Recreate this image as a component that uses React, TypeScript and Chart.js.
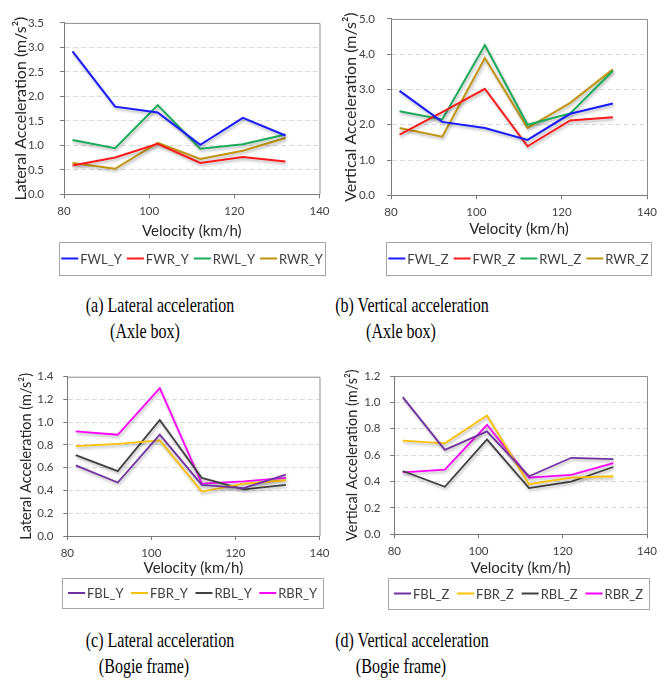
import React, { useEffect, useRef } from 'react';
import { Chart, registerables } from 'chart.js';
Chart.register(...registerables);

// ---------- data ----------
const speeds = [82, 92, 102, 112, 122, 132];
const xTicks = [80, 100, 120, 140];

const FWL_Y = [2.92, 1.79, 1.67, 1.01, 1.56, 1.2];
const FWR_Y = [0.59, 0.75, 1.03, 0.64, 0.76, 0.67];
const RWL_Y = [1.11, 0.94, 1.82, 0.93, 1.02, 1.22];
const RWR_Y = [0.64, 0.52, 1.05, 0.72, 0.89, 1.15];

const FWL_Z = [2.96, 2.08, 1.91, 1.57, 2.31, 2.6];
const FWR_Z = [1.72, 2.36, 3.02, 1.39, 2.12, 2.21];
const RWL_Z = [2.38, 2.15, 4.26, 2.0, 2.32, 3.53];
const RWR_Z = [1.91, 1.66, 3.89, 1.91, 2.62, 3.57];

const FBL_Y = [0.62, 0.47, 0.89, 0.45, 0.42, 0.54];
const FBR_Y = [0.79, 0.81, 0.84, 0.39, 0.46, 0.49];
const RBL_Y = [0.71, 0.57, 1.02, 0.51, 0.41, 0.45];
const RBR_Y = [0.92, 0.89, 1.3, 0.46, 0.48, 0.51];

const FBL_Z = [1.04, 0.64, 0.78, 0.44, 0.58, 0.57];
const FBR_Z = [0.71, 0.69, 0.9, 0.38, 0.43, 0.44];
const RBL_Z = [0.48, 0.36, 0.72, 0.35, 0.4, 0.51];
const RBR_Z = [0.47, 0.49, 0.83, 0.43, 0.45, 0.54];

const yTicksA = [0, 0.5, 1.0, 1.5, 2.0, 2.5, 3.0, 3.5];
const yTicksB = [0, 1, 2, 3, 4, 5];
const yTicksC = [0, 0.2, 0.4, 0.6, 0.8, 1.0, 1.2, 1.4];
const yTicksD = [0, 0.2, 0.4, 0.6, 0.8, 1.0, 1.2];

const xTitle = 'Velocity (km/h)';
const latTitle = 'Lateral Acceleration (m/s²)';
const vertTitle = 'Vertical Acceleration (m/s²)';

const C_BLUE = '#1a1aff';
const C_RED = '#ff1a1a';
const C_GREEN = '#1aaa5a';
const C_GOLD = '#c0940e';
const C_PURPLE = '#7030a0';
const C_YELLOW = '#ffc000';
const C_BLACK = '#404040';
const C_MAGENTA = '#ff00ff';

const FONT = 'Lato, "Open Sans", sans-serif';

type Series = { label: string; color: string; values: number[] };
type Spec = {
  canvas: [number, number, number, number];
  plot: [number, number, number, number];
  yTitleX: number;
  xTitleY: number;
  yTitle: string;
  fsY: number;
  fsX: number;
  yTicks: number[];
  yTickPad: number;
  legendBox: [number, number, number, number];
  series: Series[];
  lineWidth: number;
  caption: [string, string];
  cap1: [number, number];
  cap2: [number, number];
};

const specs: Spec[] = [
  {
    canvas: [0, 0, 336, 285],
    plot: [64, 16, 321, 194.3],
    yTitleX: 20.7,
    xTitleY: 231,
    yTitle: latTitle,
    fsY: 16,
    fsX: 15,
    yTicks: yTicksA,
    yTickPad: 16,
    legendBox: [59, 242, 325, 275],
    series: [
      { label: 'FWL_Y', color: C_BLUE, values: FWL_Y },
      { label: 'FWR_Y', color: C_RED, values: FWR_Y },
      { label: 'RWL_Y', color: C_GREEN, values: RWL_Y },
      { label: 'RWR_Y', color: C_GOLD, values: RWR_Y },
    ],
    lineWidth: 2,
    caption: ['(a) Lateral acceleration', '(Axle box)'],
    cap1: [159.5, 305],
    cap2: [145, 331],
  },
  {
    canvas: [336, 0, 336, 285],
    plot: [391, 11.7, 647, 195.3],
    yTitleX: 351,
    xTitleY: 229.3,
    yTitle: vertTitle,
    fsY: 16,
    fsX: 15,
    yTicks: yTicksB,
    yTickPad: 12,
    legendBox: [386, 242, 651, 275],
    series: [
      { label: 'FWL_Z', color: C_BLUE, values: FWL_Z },
      { label: 'FWR_Z', color: C_RED, values: FWR_Z },
      { label: 'RWL_Z', color: C_GREEN, values: RWL_Z },
      { label: 'RWR_Z', color: C_GOLD, values: RWR_Z },
    ],
    lineWidth: 2,
    caption: ['(b) Vertical acceleration', '(Axle box)'],
    cap1: [412, 305],
    cap2: [401, 331],
  },
  {
    canvas: [0, 345, 336, 275],
    plot: [67.3, 376.7, 320, 536],
    yTitleX: 26,
    xTitleY: 568.3,
    yTitle: latTitle,
    fsY: 14.5,
    fsX: 15,
    yTicks: yTicksC,
    yTickPad: 10,
    legendBox: [62, 578, 323, 608],
    series: [
      { label: 'FBL_Y', color: C_PURPLE, values: FBL_Y },
      { label: 'FBR_Y', color: C_YELLOW, values: FBR_Y },
      { label: 'RBL_Y', color: C_BLACK, values: RBL_Y },
      { label: 'RBR_Y', color: C_MAGENTA, values: RBR_Y },
    ],
    lineWidth: 1.8,
    caption: ['(c) Lateral acceleration', '(Bogie frame)'],
    cap1: [159.5, 639.5],
    cap2: [144, 666],
  },
  {
    canvas: [336, 345, 336, 275],
    plot: [394.3, 376, 647, 534.3],
    yTitleX: 352,
    xTitleY: 567.7,
    yTitle: vertTitle,
    fsY: 14.5,
    fsX: 15,
    yTicks: yTicksD,
    yTickPad: 10,
    legendBox: [388, 578, 649, 609],
    series: [
      { label: 'FBL_Z', color: C_PURPLE, values: FBL_Z },
      { label: 'FBR_Z', color: C_YELLOW, values: FBR_Z },
      { label: 'RBL_Z', color: C_BLACK, values: RBL_Z },
      { label: 'RBR_Z', color: C_MAGENTA, values: RBR_Z },
    ],
    lineWidth: 1.8,
    caption: ['(d) Vertical acceleration', '(Bogie frame)'],
    cap1: [412, 639.5],
    cap2: [401, 666],
  },
];

function Panel({ spec }: { spec: Spec }) {
  const ref = useRef<HTMLCanvasElement | null>(null);
  useEffect(() => {
    const canvas = ref.current;
    if (!canvas) return;
    const [cl, ct, W, H] = spec.canvas;
    const [L, T, R, B] = spec.plot;
    const pl = spec.yTitleX - cl - 0.6 * spec.fsY;
    const yw = L - cl - pl;
    const pt = T - ct;
    const pr = cl + W - R;
    const sb = spec.xTitleY - ct + 0.6 * spec.fsX;
    const xh = sb - (B - ct);
    const pb = H - sb;
    const yMin = spec.yTicks[0];
    const yMax = spec.yTicks[spec.yTicks.length - 1];

    const framePlugin = {
      id: 'frameShadow',
      beforeDatasetsDraw(chart: any) {
        const ctx = chart.ctx;
        const a = chart.chartArea;
        ctx.save();
        ctx.strokeStyle = '#8c8c8c';
        ctx.lineWidth = 1;
        ctx.beginPath();
        ctx.moveTo(a.left, a.top + 0.5);
        ctx.lineTo(a.right + 0.5, a.top + 0.5);
        ctx.lineTo(a.right + 0.5, a.bottom);
        ctx.stroke();
        ctx.restore();
        ctx.save();
        ctx.shadowColor = 'rgba(0,0,0,0.3)';
        ctx.shadowBlur = 3;
        ctx.shadowOffsetX = 1;
        ctx.shadowOffsetY = 2;
      },
      afterDatasetsDraw(chart: any) {
        chart.ctx.restore();
      },
    };

    const legendPlugin = {
      id: 'boxLegend',
      afterDraw(chart: any) {
        const ctx = chart.ctx;
        const [bl0, bt0, br0, bb0] = spec.legendBox;
        const bl = bl0 - cl, bt = bt0 - ct, br = br0 - cl, bb = bb0 - ct;
        ctx.save();
        ctx.strokeStyle = '#a6a6a6';
        ctx.lineWidth = 1;
        ctx.strokeRect(Math.round(bl) + 0.5, Math.round(bt) + 0.5, Math.round(br - bl), Math.round(bb - bt));
        ctx.font = `13px ${FONT}`;
        ctx.textBaseline = 'middle';
        ctx.textAlign = 'left';
        const lineLen = 17;
        const g = 2;
        const items = chart.data.datasets.map((d: any) => ({
          label: d.label,
          color: d.borderColor,
          w: lineLen + g + ctx.measureText(d.label).width,
        }));
        const inner = br - bl - 12;
        const sumW = items.reduce((s: number, it: any) => s + it.w, 0);
        const gap = Math.max(5, (inner - sumW) / (items.length - 1));
        const total = sumW + gap * (items.length - 1);
        let x = (bl + br) / 2 - total / 2;
        const y = (bt + bb) / 2;
        items.forEach((it: any) => {
          ctx.strokeStyle = it.color;
          ctx.lineWidth = 2;
          ctx.beginPath();
          ctx.moveTo(x, y);
          ctx.lineTo(x + lineLen, y);
          ctx.stroke();
          ctx.fillStyle = '#404040';
          ctx.fillText(it.label, x + lineLen + g, y + 1);
          x += it.w + gap;
        });
        ctx.restore();
      },
    };

    const chart = new Chart(canvas, {
      type: 'line',
      data: {
        datasets: spec.series.map((s) => ({
          label: s.label,
          data: s.values.map((v, i) => ({ x: speeds[i], y: v })),
          borderColor: s.color,
          backgroundColor: s.color,
          borderWidth: spec.lineWidth,
          pointRadius: 0,
          tension: 0,
          fill: false,
        })),
      },
      options: {
        animation: false,
        responsive: false,
        maintainAspectRatio: false,
        devicePixelRatio: 1,
        layout: { padding: { left: pl, top: pt, right: pr, bottom: pb } },
        plugins: { legend: { display: false }, tooltip: { enabled: false } },
        scales: {
          x: {
            type: 'linear',
            min: xTicks[0],
            max: xTicks[xTicks.length - 1],
            afterBuildTicks: (s: any) => {
              s.ticks = xTicks.map((v) => ({ value: v }));
            },
            afterFit: (s: any) => {
              s.height = xh;
            },
            grid: {
              drawOnChartArea: false,
              drawTicks: true,
              tickLength: 4,
              tickColor: '#7a7a7a',
            },
            border: { display: true, color: '#7a7a7a', width: 1 },
            ticks: {
              padding: 6.5,
              color: '#404040',
              font: { family: FONT, size: 11.5 },
              maxRotation: 0,
              callback: (v: any) => String(v),
            },
            title: {
              display: true,
              text: xTitle,
              color: '#262626',
              padding: 0,
              font: { family: FONT, size: spec.fsX },
            },
          },
          y: {
            type: 'linear',
            min: yMin,
            max: yMax,
            afterBuildTicks: (s: any) => {
              s.ticks = spec.yTicks.map((v) => ({ value: v }));
            },
            afterFit: (s: any) => {
              s.width = yw;
            },
            grid: {
              drawOnChartArea: true,
              drawTicks: true,
              tickLength: 4,
              tickColor: '#7a7a7a',
              lineWidth: 1,
              color: (c: any) =>
                c.tick && (Math.abs(c.tick.value - yMin) < 1e-9 || Math.abs(c.tick.value - yMax) < 1e-9)
                  ? 'rgba(0,0,0,0)'
                  : '#d9d9d9',
            },
            border: { display: true, color: '#7a7a7a', width: 1, dash: [5, 3] },
            ticks: {
              padding: spec.yTickPad,
              color: '#404040',
              font: { family: FONT, size: 11.5 },
              callback: (v: any) => Number(v).toFixed(1),
            },
            title: {
              display: true,
              text: spec.yTitle,
              color: '#262626',
              padding: 0,
              font: { family: FONT, size: spec.fsY },
            },
          },
        },
      },
      plugins: [framePlugin, legendPlugin],
    } as any);
    return () => chart.destroy();
  }, [spec]);

  const [cl, ct, W, H] = spec.canvas;
  const capStyle = (cx: number, cy: number): React.CSSProperties => ({
    position: 'absolute',
    left: cx - 200,
    top: cy - 13,
    width: 400,
    height: 26,
    lineHeight: '26px',
    textAlign: 'center',
    fontFamily: '"Liberation Serif", "Times New Roman", serif',
    fontSize: 21.5,
    color: '#000',
    transform: 'scaleX(0.745)',
    transformOrigin: 'center',
    whiteSpace: 'nowrap',
  });
  return (
    <>
      <canvas
        ref={ref}
        width={W}
        height={H}
        style={{ position: 'absolute', left: cl, top: ct, width: W, height: H }}
      />
      <div style={capStyle(spec.cap1[0], spec.cap1[1])}>{spec.caption[0]}</div>
      <div style={capStyle(spec.cap2[0], spec.cap2[1])}>{spec.caption[1]}</div>
    </>
  );
}

export default function App() {
  return (
    <div
      style={{
        position: 'absolute',
        left: 0,
        top: 0,
        width: 672,
        height: 683,
        background: '#fff',
        overflow: 'hidden',
      }}
    >
      {specs.map((s, i) => (
        <Panel key={i} spec={s} />
      ))}
    </div>
  );
}
